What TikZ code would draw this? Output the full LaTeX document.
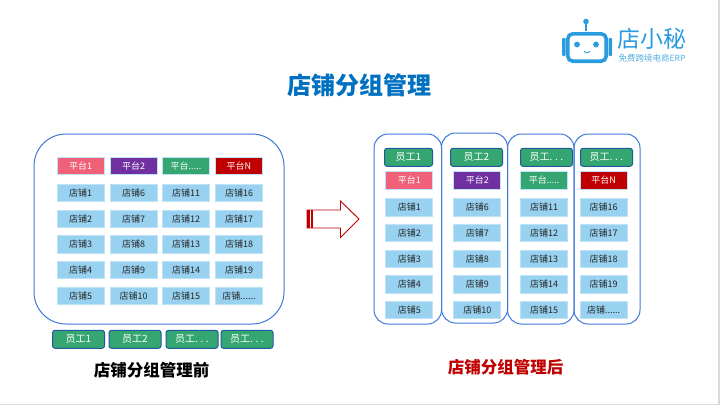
\documentclass[tikz,border=0pt]{standalone}
\usepackage{fontspec}
\setmainfont{Noto Sans CJK SC}
\usetikzlibrary{positioning}
\definecolor{shopblue}{HTML}{98D2F0}
\definecolor{shopedge}{HTML}{BFE3F6}
\definecolor{framblue}{HTML}{3F78D8}
\definecolor{staffgreen}{HTML}{35A672}
\definecolor{staffedge}{HTML}{1F5A9C}
\definecolor{logoblue}{HTML}{2A9BDE}
\definecolor{titleblue}{HTML}{0070C0}
\definecolor{darkred}{HTML}{C00000}
\definecolor{platpink}{HTML}{F06078}
\definecolor{platviolet}{HTML}{7030A0}
\definecolor{edgegray}{HTML}{D5DBE0}
\newcommand{\shopmore}{.\kern0pt.\kern0pt.\kern0pt.\kern0pt.\kern0pt.}
\newcommand{\platmore}{.\kern0pt.\kern0pt.\kern0pt.\kern0pt.}
\newcommand{\staffmore}{.\hspace{2.6pt}.\hspace{2.6pt}.}
\tikzset{
	shopbox/.style={draw=shopedge, fill=shopblue, line width=0.8pt, minimum width=47pt, minimum height=17.5pt, inner sep=0pt, text=black!85, font=\fontsize{9}{9}\selectfont},
	platbox/.style={shopbox, text=white},
	staffbox/.style={draw=staffedge, fill=staffgreen, line width=1pt, rounded corners=2.5pt, minimum width=52pt, minimum height=18pt, inner sep=0pt, text=white, font=\fontsize{10}{10}\selectfont},
	framebox/.style={draw=framblue, line width=1pt},
	caption/.style={font=\fontsize{16.5}{16.5}\selectfont\bfseries}
}
\begin{document}
\begin{tikzpicture}[
	x=1pt,
	y=-1pt
	]
	\useasboundingbox (0,0) rectangle (720,405);
	\fill[white] (0,0) rectangle (720,405);
	\fill[edgegray] (718,0) rectangle (720,405);
	\fill[edgegray] (0,404) rectangle (720,405);

	% --- logo ---
	\draw[logoblue, line width=1.8pt] (586,22) -- (586,31);
	\fill[logoblue] (586,21.5) circle (2.8);
	\draw[logoblue, line width=3.6pt, rounded corners=5pt] (567.8,33.8) rectangle (606.2,61.2);
	\fill[logoblue, rounded corners=1pt] (562,38) rectangle (565.5,56);
	\fill[logoblue, rounded corners=1pt] (608.5,38) rectangle (612,56);
	\fill[logoblue] (577,44.5) circle (2.9);
	\fill[logoblue] (596,44.5) circle (2.9);
	\draw[logoblue, line width=0.9pt] (584,51) .. controls (585.5,53.5) and (588.5,53.5) .. (590,51);
	\node[text=logoblue, font=\fontsize{23}{23}\selectfont] (logoname) at (652,38.5) {店小秘};
	\node[text=logoblue!80, font=\fontsize{8.5}{8.5}\selectfont] (logosub) at (652,58) {免费跨境电商ERP};

	% --- title ---
	\node[text=titleblue, font=\fontsize{24}{24}\selectfont\bfseries] (title) at (359,85) {店铺分组管理};

	% --- left: before ---
	\draw[framebox, rounded corners=32pt] (34,134) rectangle (284,324);
	\node[platbox, fill=platpink] (platL1) at (80.5,166) {平台1};
	\node[platbox, fill=platviolet] (platL2) at (133.5,166) {平台2};
	\node[platbox, fill=staffgreen] (platL3) at (186,166) {平台\platmore};
	\node[platbox, fill=darkred] (platL4) at (239,166) {平台N};
	\foreach \x/\a/\b/\c/\d/\e/\col in {
		80.5/1/2/3/4/5/1,
		133.5/6/7/8/9/10/2,
		186/11/12/13/14/15/3,
		239/16/17/18/19/\shopmore/4} {
		\node[shopbox] (shopL\col a) at (\x,193) {店铺\a};
		\node[shopbox] (shopL\col b) at (\x,218.7) {店铺\b};
		\node[shopbox] (shopL\col c) at (\x,244.3) {店铺\c};
		\node[shopbox] (shopL\col d) at (\x,270) {店铺\d};
		\node[shopbox] (shopL\col e) at (\x,295.7) {店铺\e};
	}
	\foreach \x/\lab/\col in {78.5/员工1/1, 135/员工2/2, 192/员工\staffmore/3, 247/员工\staffmore/4} {
		\node[staffbox] (staffL\col) at (\x,339.3) {\lab};
	}
	\node[caption] (capL) at (151.7,370.5) {店铺分组管理前};

	% --- arrow ---
	\filldraw[draw=darkred, fill=white, line width=0.9pt] (307,210) -- (340.5,210) -- (340.5,201) -- (359,219) -- (340.5,237.5) -- (340.5,228) -- (307,228) -- cycle;
	\fill[darkred] (306.5,210) rectangle (310,228);
	\fill[darkred] (311.3,210) rectangle (313,228);

	% --- right: after ---
	\draw[framebox, rounded corners=14pt] (374,134) rectangle (441.5,324);
	\draw[framebox, rounded corners=14pt] (441.5,133) rectangle (507.5,323);
	\draw[framebox, rounded corners=14pt] (507.5,134) rectangle (574,324);
	\draw[framebox, rounded corners=14pt] (574,134) rectangle (640,324);
	\node[staffbox, minimum width=48pt] (staffR1) at (408.5,157.3) {员工1};
	\foreach \x/\lab/\col in {476.5/员工2/2, 546.5/员工\staffmore/3, 606.5/员工\staffmore/4} {
		\node[staffbox] (staffR\col) at (\x,157.3) {\lab};
	}
	\node[platbox, fill=platpink] (platR1) at (409.3,180.2) {平台1};
	\node[platbox, fill=platviolet] (platR2) at (477.3,180.2) {平台2};
	\node[platbox, fill=staffgreen] (platR3) at (544,180.2) {平台\platmore};
	\node[platbox, fill=darkred] (platR4) at (603.7,180.2) {平台N};
	\foreach \x/\a/\b/\c/\d/\e/\col in {
		409.3/1/2/3/4/5/1,
		477.3/6/7/8/9/10/2,
		544/11/12/13/14/15/3,
		603.7/16/17/18/19/\shopmore/4} {
		\node[shopbox] (shopR\col a) at (\x,207.3) {店铺\a};
		\node[shopbox] (shopR\col b) at (\x,233) {店铺\b};
		\node[shopbox] (shopR\col c) at (\x,258.7) {店铺\c};
		\node[shopbox] (shopR\col d) at (\x,284.3) {店铺\d};
		\node[shopbox] (shopR\col e) at (\x,310) {店铺\e};
	}
	\node[caption, text=darkred] (capR) at (505.7,366.7) {店铺分组管理后};
\end{tikzpicture}
\end{document}
